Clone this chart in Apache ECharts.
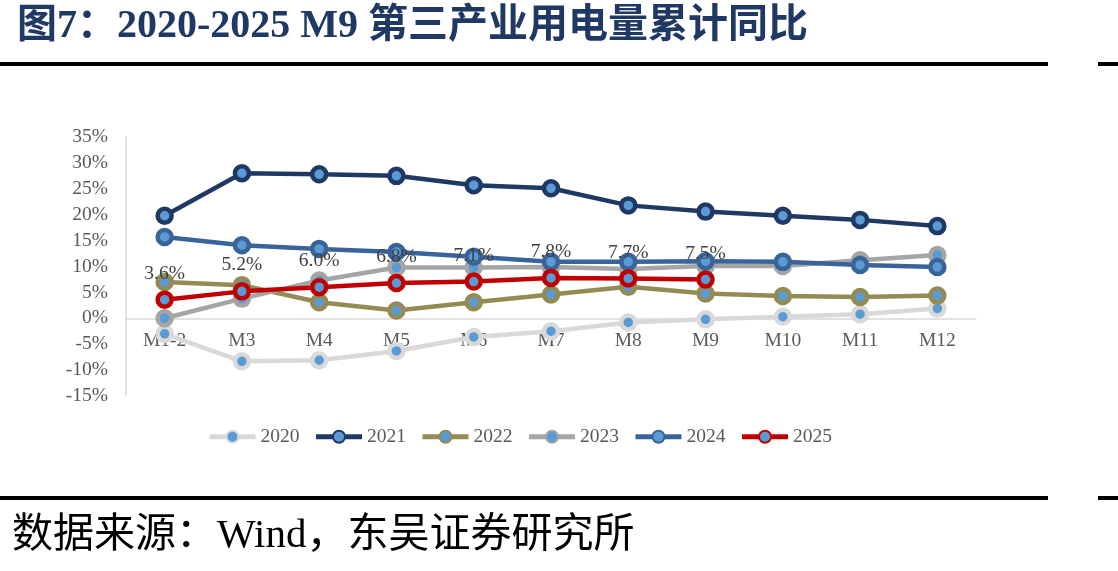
<!DOCTYPE html>
<html>
<head>
<meta charset="UTF-8">
<title>第三产业用电量累计同比</title>
<script src="https://cdn.jsdelivr.net/npm/echarts@6/dist/echarts.min.js"></script>
<style>
html,body{margin:0;padding:0;width:100%;height:100%;background:#fff;}
#chart{width:1118px;height:571px;}
</style>
</head>
<body>
<div id="chart"></div>
<script>
var months = ['M1-2','M3','M4','M5','M6','M7','M8','M9','M10','M11','M12'];
var y2020 = [-3.0,-8.3,-8.1,-6.3,-3.6,-2.5,-0.8,-0.2,0.3,0.8,1.9];
var y2021 = [19.8,28.0,27.8,27.5,25.7,25.1,21.8,20.6,19.8,19.0,17.8];
var y2022 = [7.0,6.4,3.1,1.5,3.1,4.6,6.1,4.8,4.3,4.1,4.4];
var y2023 = [0.0,3.8,7.3,9.8,9.8,9.9,9.5,10.1,10.1,11.2,12.2];
var y2024 = [15.7,14.1,13.4,12.8,11.9,10.9,10.9,11.0,10.9,10.3,9.9];
var y2025 = [3.6,5.2,6.0,6.8,7.1,7.8,7.7,7.5];
var yTicks = {min:-15, max:35, step:5};

var serif = "'Liberation Serif','Times New Roman','Noto Sans CJK SC',serif";
var chart = echarts.init(document.getElementById('chart'));

// grid: top 137, bottom 396 -> zero line sits 35/50 of the way down
var gridTop = 137, gridH = 259;
var zeroOffset = -gridH * (0 - yTicks.min) / (yTicks.max - yTicks.min);

function line(name, data, color, showLabel){
    return {
        name: name,
        type: 'line',
        data: data,
        symbol: 'circle',
        symbolSize: 14,
        lineStyle: {color: color, width: 4.5},
        itemStyle: {color: '#5B9BD5', borderColor: color, borderWidth: 4.5},
        label: {
            show: !!showLabel,
            position: 'top',
            distance: 7,
            color: '#404040',
            fontSize: 19.5,
            fontFamily: serif,
            formatter: function(p){ return p.value.toFixed(1) + '%'; }
        },
        emphasis: {disabled: true},
        animation: false
    };
}

chart.setOption({
    backgroundColor: '#fff',
    title: {
        text: '图7：2020-2025 M9 第三产业用电量累计同比',
        left: 12, top: 2,
        textStyle: {color: '#1F3864', fontSize: 40, fontWeight: 'bold', fontFamily: serif}
    },
    graphic: [
        {type:'rect', shape:{x:0, y:62, width:1048, height:4}, style:{fill:'#000'}},
        {type:'rect', shape:{x:1098, y:62, width:20, height:4}, style:{fill:'#000'}},
        {type:'rect', shape:{x:0, y:496, width:1048, height:4}, style:{fill:'#000'}},
        {type:'rect', shape:{x:1098, y:496, width:20, height:4}, style:{fill:'#000'}},
        {type:'text', left:12, top:516, style:{text:'数据来源：Wind，东吴证券研究所', fill:'#000', fontSize:41, fontFamily: serif}}
    ],
    legend: {
        top: 422,
        left: 202,
        itemWidth: 46,
        itemHeight: 15,
        itemGap: 14,
        lineStyle: {width: 5},
        textStyle: {color: '#595959', fontSize: 19.5, fontFamily: serif},
        data: ['2020','2021','2022','2023','2024','2025']
    },
    grid: {left: 126, right: 142, top: gridTop, height: gridH},
    xAxis: {
        type: 'category',
        data: months,
        boundaryGap: true,
        offset: zeroOffset,
        axisLine: {onZero: false, lineStyle: {color: '#D9D9D9', width: 1.5}},
        axisTick: {show: false},
        axisLabel: {color: '#595959', fontSize: 19.5, fontFamily: serif, margin: 13}
    },
    yAxis: {
        type: 'value',
        min: yTicks.min, max: yTicks.max, interval: yTicks.step,
        axisLine: {show: true, lineStyle: {color: '#D9D9D9', width: 1.5}},
        axisTick: {show: false},
        splitLine: {show: false},
        axisLabel: {color: '#595959', fontSize: 19.5, fontFamily: serif, margin: 18, formatter: '{value}%'}
    },
    series: [
        line('2020', y2020, '#D9D9D9'),
        line('2021', y2021, '#1F3864'),
        line('2022', y2022, '#948A54'),
        line('2023', y2023, '#A5A5A5'),
        line('2024', y2024, '#3A6499'),
        line('2025', y2025, '#C00000', true)
    ]
});
</script>
</body>
</html>
